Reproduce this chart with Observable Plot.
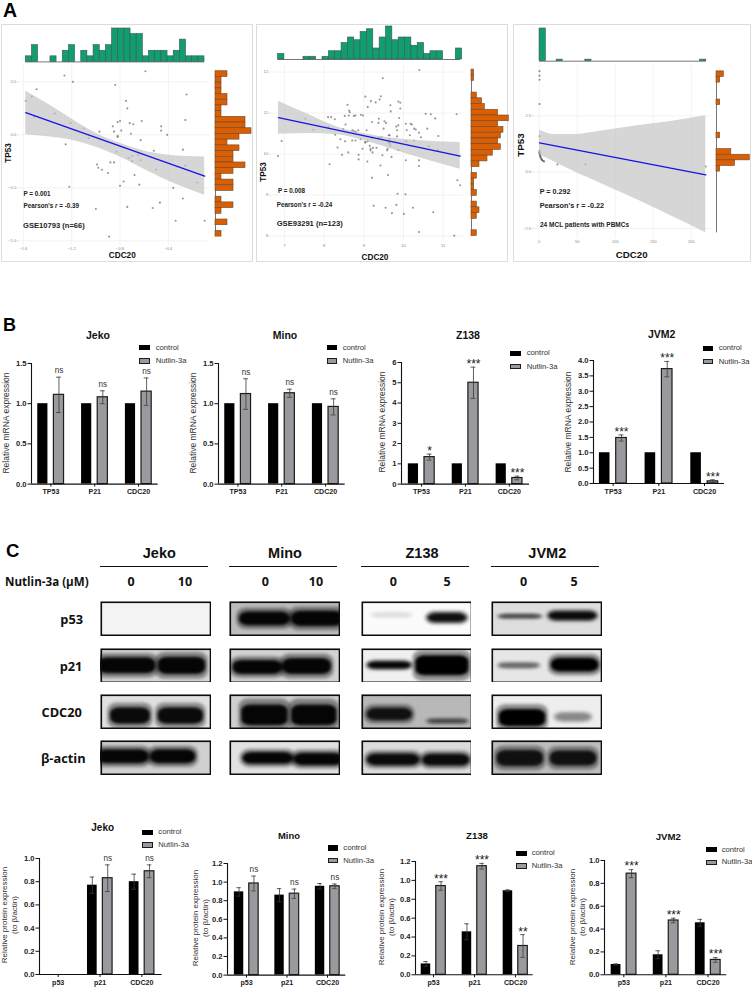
<!DOCTYPE html>
<html>
<head>
<meta charset="utf-8">
<script src="https://cdn.jsdelivr.net/npm/d3@7"></script>
<script src="https://cdn.jsdelivr.net/npm/@observablehq/plot@0.6"></script>
<style>
html,body{margin:0;padding:0;background:#fff;}
#page{position:relative;width:752px;height:989px;overflow:hidden;background:#fff;font-family:"Liberation Sans",Arial,sans-serif;color:#111;}
.lab{position:absolute;white-space:nowrap;line-height:1;}
.box{position:absolute;border:1px solid #dcdcdc;box-sizing:border-box;}
.sw{position:absolute;box-sizing:border-box;}
.blot g[aria-label="rect"]{filter:blur(1.7px);}
</style>
</head>
<body>
<div id="page"></div>
<script>
// ---------- Panel A: scatter data ----------
const cdc20A=[-1.26,-1.19,-.59,-.84,-1.49,-1.53,-1.58,-.25,-.75,-.74,-1.34,-1.51,-.26,-1.21,-.82,-.80,-.72,-.69,-.62,-.86,-.46,-.46,-1.10,-.97,-.85,-.79,-.71,-.82,-.41,-1.06,-.63,-1.25,-.77,-.28,-.52,-.83,-.64,-.70,-.73,-.63,-.70,-.88,-.85,-.99,-.26,-.98,-.95,-.50,-.90,-.68,-.16,-.77,-.80,-.64,-1.22,-.36,-.28,-.47,-.53,-.74,-1.00,-.34,-.10,-.89,-.65,-.82];
const tp53A=[.56,.50,.60,.47,.43,.36,.32,.38,.32,.25,.20,.17,.14,.11,.12,.13,.11,.10,.13,.08,.08,.04,.06,.03,.03,.04,.01,-.01,0,-.03,-.05,-.09,-.12,-.14,-.15,-.16,-.17,-.20,-.22,-.24,-.25,-.26,-.26,-.28,-.29,-.31,-.33,-.33,-.36,-.38,-.45,-.44,-.48,-.47,-.49,-.50,-.60,-.64,-.69,-.68,-.70,-.81,-.81,-.96,-.19,-.02];
const cdc20B=[6.84,6.93,7.53,7.73,8.10,8.18,8.27,8.11,8.14,8.28,8.34,8.45,8.52,8.54,8.48,8.53,8.61,8.59,8.63,8.65,8.62,8.75,8.79,8.71,8.75,8.80,8.86,8.93,8.98,9.10,9.04,9.18,9.30,9.40,9.43,9.48,10.40,9.07,8.92,8.97,9.04,9.10,8.87,8.87,9.09,9.15,9.17,9.23,9.22,9.21,9.37,9.38,9.52,9.56,9.65,9.67,9.68,9.87,9.92,9.92,9.89,9.87,9.82,10.06,10.18,10.21,10.27,10.16,10.31,10.39,10.44,10.56,10.69,10.80,11.34,10.60,10.88,10.64,10.87,9.47,9.60,9.62,9.65,9.70,9.87,10.07,10.06,10.39,10.39,9.42,9.61,9.21,11.36,11.43,9.85,10.05,9.25,9.55,9.82,10.24,9.71,10.01,10.75,10.39,11.28,9.04,9.59,9.17,9.65,9.45,9.84,8.79,8.71,8.41,9.63,9.38,9.50,9.20,9.32,10.08,9.84,10.26,9.67];
const tp53B=[9.95,10.32,10.86,10.59,10.90,10.90,10.85,10.66,9.75,10.47,10.16,9.98,10.93,10.72,10.61,10.31,10.04,11.20,11.06,11.02,10.94,10.93,10.94,10.33,10.56,10.54,10.58,10.96,10.94,11.15,11.40,11.29,11.26,11.33,11.41,11.85,12.05,10.58,10.36,10.13,10.28,10.31,9.98,9.87,9.82,10.20,10.09,10.15,10.04,10.78,10.76,10.86,10.80,10.76,10.46,11.19,11.04,11.28,11.25,11.11,10.88,10.70,10.67,10.74,10.74,10.72,10.62,10.46,10.60,10.52,10.41,10.98,10.97,10.87,10.97,10.62,10.44,10.19,10.09,9.97,10.13,10.29,10.26,9.93,10.10,10.31,9.85,9.85,9.71,9.72,9.49,9.42,9.36,9.24,9.03,9.02,8.74,8.69,8.76,8.69,8.56,8.54,8.58,8.10,8.01,10.29,10.09,10.13,10.36,10.41,10.58,10.33,10.58,10.36,10.46,10.40,10.62,10.40,10.15,10.58,10.43,10.33,10.21];
const cdc20C=[.4,.4,.4,.4,.4,.4,.4,.9,1.3,2.2,3.5,4.8,6.6,24,61,219,.4,.4,1.3,2.6,3.9,5.7,.9,1.8];
const tp53C=[4.48,4.28,4.10,3.02,1.60,.89,.83,.77,.70,.62,.56,.50,.47,.34,.34,.25,.95,.86,.74,.59,.53,.49,.80,.67];

const bandXA=[-1.58,-1.38,-1.20,-.99,-.80,-.61,-.41,-.10];
const bandHiA=[.41,.28,.15,.01,-.08,-.15,-.19,-.21];
const bandLoA=[0,-.02,-.05,-.12,-.21,-.32,-.43,-.57];
const fitXA=[-1.58,-.10], fitYA=[.21,-.39];
const bandXB=[6.85,7.57,8.33,9.00,9.67,10.34,11.43];
const bandHiB=[11.29,10.98,10.66,10.50,10.39,10.33,10.28];
const bandLoB=[10.48,10.50,10.47,10.33,10.13,9.93,9.63];
const fitXB=[6.85,11.43], fitYB=[10.89,9.95];
const bandXC=[.4,21,43,87,131,175,219];
const bandHiC=[1.86,1.67,1.67,1.85,2.07,2.26,2.50];
const bandLoC=[.77,.44,.07,-.59,-1.26,-1.97,-2.69];
const fitXC=[.4,219], fitYC=[1.30,-.12];

// marginal histogram counts
const topCountsA=[1,3,0,0,1,0,2,3,0,2,1,3,2,3,6,6,6,5,5,1,2,2,2,1,2,4,1,1,1];
const rightCountsA=[2,1,1,1,2,2,1,1,5,5,6,4,2,4,3,3,5,3,1,3,3,0,1,3,1,0,2,0,1];
const topCountsB=[2,0,0,0,1,1,0,1,3,3,6,8,7,10,11,4,8,12,7,8,8,5,6,2,3,3,0,0,4];
const rightCountsB=[1,1,0,0,2,4,5,10,14,10,12,11,10,11,8,6,3,0,2,1,1,2,0,2,3,2,0,0,2];
const topStartsC=[.4,22.8,60.5,211.4], topCountsC=[21,1,1,1];
const rightStartsC=[4.47,4.22,3.22,1.75,1.02,.77,.52,.27], rightCountsC=[2,1,1,1,4,9,5,1];

// ---------- Panels B and C: bar data ----------
const genesB=["TP53","P21","CDC20"], genesC=["p53","p21","CDC20"];
const mrnaControl=[1,1,1];
const jekoMrna=[1.11,1.08,1.15], jekoMrnaErr=[.22,.08,.17], jekoMrnaSig=["ns","ns","ns"];
const minoMrna=[1.12,1.13,.96], minoMrnaErr=[.19,.05,.10], minoMrnaSig=["ns","ns","ns"];
const z138Mrna=[1.33,5.0,.30], z138MrnaErr=[.15,.77,.09], z138MrnaSig=["*","***","***"];
const jvm2Mrna=[1.48,3.72,.07], jvm2MrnaErr=[.10,.25,.05], jvm2MrnaSig=["***","***","***"];

const jekoProtC=[0,.77,.80], jekoProtN=[0,.83,.89], jekoProtErrC=[0,.07,.065], jekoProtErrN=[0,.115,.055], jekoProtSig=["","ns","ns"];
const minoProtC=[.895,.86,.955], minoProtN=[.985,.875,.955], minoProtErrC=[.045,.07,.03], minoProtErrN=[.08,.05,.025], minoProtSig=["ns","ns","ns"];
const z138ProtC=[.115,.455,.89], z138ProtN=[.94,1.15,.305], z138ProtErrC=[.025,.085,.01], z138ProtErrN=[.045,.03,.12], z138ProtSig=["***","***","**"];
const jvm2ProtC=[.09,.175,.455], jvm2ProtN=[.885,.475,.13], jvm2ProtErrC=[.005,.035,.03], jvm2ProtErrN=[.035,.02,.02], jvm2ProtSig=["***","***","***"];

// ---------- Panel C: blot band readings: [from, to, centre, thickness, tone] within each strip ----------
const proteins=["p53","p21","CDC20","β-actin"];
const blotBackgrounds=[["#f3f3f3","#d6d6d6","#e0e0e0","#d0d0d0"],["#bcbcbc","#d2d2d2","#cfcfcf","#e2e2e2"],["#fbfbfb","#f0f0f0","#b8b8b8","#dcdcdc"],["#dedede","#e6e6e6","#eeeeee","#bdbdbd"]];
const jekoBands=[[],[[-.02,.50,.5,.46,"#050505"],[.52,.95,.5,.50,"#050505"]],[[.09,.45,.62,.48,"#0a0a0a"],[.52,.93,.62,.48,"#0a0a0a"]],[[-.03,.44,.47,.40,"#050505"],[.45,.86,.47,.40,"#050505"]]];
const minoBands=[[[.09,.55,.5,.40,"#050505"],[.56,1.03,.5,.44,"#050505"]],[[.03,.48,.55,.40,"#050505"],[.48,.92,.52,.46,"#050505"]],[[.11,.53,.6,.60,"#050505"],[.56,.97,.6,.60,"#050505"]],[[.12,.58,.52,.34,"#050505"],[.58,1.03,.55,.36,"#050505"]]];
const z138Bands=[[[.1,.45,.40,.12,"#dddddd"],[.6,.95,.48,.26,"#101010"]],[[.06,.45,.49,.20,"#050505"],[.49,.97,.50,.58,"#000000"]],[[.05,.46,.58,.36,"#101010"],[.6,.96,.78,.12,"#444444"]],[[.05,.53,.56,.34,"#0a0a0a"],[.55,.98,.57,.34,"#0a0a0a"]]];
const jvm2Bands=[[[.07,.45,.44,.11,"#444444"],[.52,.95,.42,.24,"#0a0a0a"]],[[.07,.43,.50,.14,"#666666"],[.54,.97,.48,.40,"#000000"]],[[.07,.49,.68,.50,"#000000"],[.58,.9,.66,.22,"#888888"]],[[.05,.47,.52,.46,"#101010"],[.53,.95,.52,.44,"#101010"]]];

// ---------- helpers ----------
const page=document.getElementById("page");
const FONT='"Liberation Sans",Arial,sans-serif';
const CAL='"Open Sans","Liberation Sans",sans-serif';
function label(html,x,y,o={}){
  const s=document.createElement("span");s.className="lab";s.innerHTML=html;
  const a=o.anchor==="start"?"0":"-50%";
  s.style.left=x+"px";s.style.top=y+"px";
  s.style.fontSize=(o.size||8)+"px";
  s.style.fontWeight=o.weight||"normal";
  s.style.color=o.color||"#111";
  if(o.font)s.style.fontFamily=o.font;
  s.style.transform=`translate(${a},-50%)`+(o.rotate?` rotate(${o.rotate}deg)`:"");
  page.appendChild(s);
}
function place(p){page.appendChild(p);}
function styleAt(left,top,extra={}){return {position:"absolute",left:left+"px",top:top+"px",background:"transparent",fontFamily:FONT,maxWidth:"none",...extra};}

function scatter(c){
  const [l,t,r,b]=c.inner;
  const box=document.createElement("div");box.className="box";
  box.style.cssText+=`left:${c.frame[0]}px;top:${c.frame[1]}px;width:${c.frame[2]-c.frame[0]}px;height:${c.frame[3]-c.frame[1]}px`;
  page.appendChild(box);
  const pts=c.xs.map((x,i)=>({x,y:c.ys[i]}));
  const band=c.bandX.map((x,i)=>({x,hi:c.bandHi[i],lo:c.bandLo[i]}));
  const fit=c.fitX.map((x,i)=>({x,y:c.fitY[i]}));
  const mL=18,mB=8;
  place(Plot.plot({
    width:r-l+mL+2,height:b-t+mB+1,marginLeft:mL,marginRight:2,marginTop:1,marginBottom:mB,
    x:{domain:c.xDomain,label:null},y:{domain:c.yDomain,label:null},
    style:styleAt(l-mL,t-1),
    marks:[
      Plot.gridX(c.xTicks,{stroke:"#eeeeee",strokeOpacity:1,strokeWidth:.7}),
      Plot.gridY(c.yTicks,{stroke:"#eeeeee",strokeOpacity:1,strokeWidth:.7}),
      Plot.axisX(c.xTicks,{tickSize:0,tickPadding:1.5,fontSize:4,fill:"#888",tickFormat:c.xFmt,label:null}),
      Plot.axisY(c.yTicks,{tickSize:1.5,tickPadding:1,fontSize:4,fill:"#888",stroke:"#aaa",strokeWidth:.5,tickFormat:c.yFmt,label:null}),
      Plot.dot(pts,{x:"x",y:"y",r:1.05,fill:"#555",fillOpacity:.62,stroke:"none"}),
      Plot.areaY(band,{x:"x",y1:"lo",y2:"hi",fill:"#c2c2c2",fillOpacity:.68,curve:"monotone-x"}),
      Plot.line(fit,{x:"x",y:"y",stroke:"#1414e6",strokeWidth:1.3})
    ]}));
  // top histogram
  const tw=c.topWidth, tops=c.topCounts.map((n,i)=>({x1:c.topStarts?c.topStarts[i]:c.topStart+i*tw,n}));
  const tMax=d3.max(c.topCounts);
  place(Plot.plot({
    width:r-l,height:c.topH+2,margin:0,marginTop:1,marginBottom:1,
    x:{domain:c.xDomain,axis:null},y:{domain:[0,tMax],axis:null},
    style:styleAt(l,c.topBase-c.topH-1),
    marks:[
      Plot.ruleY([0],{x1:c.topLine[0],x2:c.topLine[1],stroke:"#666",strokeWidth:.9}),
      Plot.rect(tops.filter(d=>d.n>0),{x1:"x1",x2:d=>d.x1+tw,y1:()=>0,y2:"n",fill:"#119c72",stroke:"#3b5a50",strokeWidth:.6})
    ]}));
  // right histogram
  const rh=c.rightHeight, rights=c.rightCounts.map((n,i)=>({y1:c.rightStarts?c.rightStarts[i]:c.rightStart-i*rh,n}));
  const rMax=d3.max(c.rightCounts);
  place(Plot.plot({
    width:c.rightW+2,height:b-t+2,marginLeft:1,marginRight:1,marginTop:1,marginBottom:1,
    x:{domain:[0,rMax],axis:null},y:{domain:c.yDomain,axis:null},
    style:styleAt(c.rightBase-1,t-1),
    marks:[
      Plot.ruleX([0],{y1:c.rightLine[0],y2:c.rightLine[1],stroke:"#666",strokeWidth:.9}),
      Plot.rect(rights.filter(d=>d.n>0),{x1:()=>0,x2:"n",y1:"y1",y2:d=>d.y1-rh,fill:"#d95f02",stroke:"#6b4a33",strokeWidth:.6})
    ]}));
}

function bars(c){
  const mL=30,mR=5,mT=20,mB=22;
  const rows=c.genes.map((g,i)=>({i,g,c:c.control[i],n:c.nutlin[i],ec:c.errC?c.errC[i]:0,en:c.errN[i],sig:c.sig[i]}));
  const xDomain=[(c.left-c.c0)/c.spacing,(c.right-c.c0)/c.spacing];
  const A=.068,B=.30,C=(A+B)/2;
  const errs=[...rows.filter(d=>d.ec>0).map(d=>({x:d.i-C,v:d.c,e:d.ec})),...rows.filter(d=>d.en>0).map(d=>({x:d.i+C,v:d.n,e:d.en}))];
  const capW=.055;
  const caps=errs.flatMap(d=>[{x:d.x,y:d.v+d.e},{x:d.x,y:d.v-d.e}]);
  const fmt=c.fmt||d3.format(".1f");
  const sigNs=rows.filter(d=>d.sig==="ns"), sigStar=rows.filter(d=>d.sig&&d.sig!=="ns");
  place(Plot.plot({
    width:c.right-c.left+mL+mR,height:c.y0-c.yTop+mT+mB,
    marginLeft:mL,marginRight:mR,marginTop:mT,marginBottom:mB,
    x:{domain:xDomain,label:null},y:{domain:[0,c.yMax],label:null},
    style:styleAt(c.left-mL,c.yTop-mT),
    marks:[
      Plot.rect(rows.filter(d=>d.c>0),{x1:d=>d.i-B,x2:d=>d.i-A,y1:()=>0,y2:"c",fill:"#000"}),
      Plot.rect(rows.filter(d=>d.n>0),{x1:d=>d.i+A,x2:d=>d.i+B,y1:()=>0,y2:"n",fill:"#9a9a9e",stroke:"#1c1c1c",strokeWidth:1.2}),
      Plot.ruleX(errs,{x:"x",y1:d=>d.v-d.e,y2:d=>d.v+d.e,stroke:"#3a3a3a",strokeWidth:.8}),
      Plot.ruleY(caps,{y:"y",x1:d=>d.x-capW,x2:d=>d.x+capW,stroke:"#3a3a3a",strokeWidth:.8}),
      Plot.text(sigNs,{x:d=>d.i+C,y:d=>d.n+d.en,text:"sig",dy:-6.5,fontSize:8.2,fill:"#333"}),
      Plot.text(sigStar,{x:d=>d.i+C,y:d=>d.n+d.en,text:"sig",dy:-3,fontSize:12,fill:"#222"}),
      Plot.ruleX([xDomain[0]],{y1:0,y2:c.yMax,stroke:"#111",strokeWidth:1.1}),
      Plot.ruleY([0],{stroke:"#111",strokeWidth:1.1}),
      Plot.axisY(c.yTicks,{tickSize:3.5,tickPadding:1.5,fontSize:7.6,fontWeight:"bold",fill:"#222",stroke:"#111",strokeWidth:1,tickFormat:fmt,label:null}),
      Plot.axisX(d3.range(c.genes.length),{tickSize:3,tickPadding:2,fontSize:7.1,fontWeight:"bold",fill:"#222",stroke:"#111",strokeWidth:1,tickFormat:i=>c.genes[i],label:null})
    ]}));
  label(c.title,c.tx,c.ty,{size:c.tsize||10.5,weight:"bold"});
  if(c.ylab2){
    label(c.ylab,c.yl1,c.yc,{size:8,rotate:-90,color:"#333"});
    label(c.ylab2,c.yl2,c.yc,{size:8,rotate:-90,color:"#333"});
  }else label(c.ylab,c.yl1,c.yc,{size:8.5,rotate:-90,color:"#333"});
  const [sx,ty1,ty2,tx]=c.legend;
  const sw=(y,nut)=>{const d=document.createElement("div");d.className="sw";
    d.style.cssText+=`left:${sx}px;top:${y-2.7}px;width:10.6px;height:5.4px;background:${nut?"#9a9a9e":"#000"};border:${nut?"1.1px solid #1c1c1c":"none"}`;page.appendChild(d);};
  sw(ty1,false);sw(ty2,true);
  label("control",tx,ty1,{size:7.7,anchor:"start",color:"#333"});
  label("Nutlin-3a",tx,ty2,{size:7.7,anchor:"start",color:"#333"});
}

function blot(bands,bg,left,top,w,h){
  const rows=bands.map(([a,b,yc,th,g])=>({a,b,yc,th,g}));
  const p=Plot.plot({
    width:w,height:h,margin:0,
    x:{domain:[0,1],axis:null},y:{domain:[1,0],axis:null},color:{type:"identity"},
    style:styleAt(left,top,{overflow:"hidden"}),
    marks:[
      Plot.frame({fill:bg,stroke:"none"}),
      Plot.rect(rows,{x1:d=>d.a-.025,x2:d=>d.b+.025,y1:d=>d.yc-d.th*.78,y2:d=>d.yc+d.th*.78,fill:"g",fillOpacity:.38,rx:10,ry:8}),
      Plot.rect(rows,{x1:"a",x2:"b",y1:d=>d.yc-d.th/2,y2:d=>d.yc+d.th/2,fill:"g",rx:9,ry:6}),
      Plot.frame({stroke:"#0c0c0c",strokeWidth:1.6,inset:.8})
    ]});
  const w2=document.createElement("div");w2.className="blot";w2.appendChild(p);page.appendChild(w2);
}

// ---------- Panel letters ----------
label("A",3,10.5,{size:19.5,weight:"bold",anchor:"start",color:"#000"});
label("B",3,324.5,{size:18,weight:"bold",anchor:"start",color:"#000"});
label("C",6,550.5,{size:18.5,weight:"bold",anchor:"start",color:"#000"});

// ---------- Panel A ----------
scatter({frame:[1,24,253,262],inner:[18.3,65,209.3,245],xDomain:[-1.64,-.06],yDomain:[-1.044,.654],
  xTicks:[-1.6,-1.2,-.8,-.4],yTicks:[-1,-.5,0,.5],xFmt:d3.format(".1f"),yFmt:d3.format(".1f"),
  xs:cdc20A,ys:tp53A,bandX:bandXA,bandHi:bandHiA,bandLo:bandLoA,fitX:fitXA,fitY:fitYA,
  topCounts:topCountsA,topStart:-1.58,topWidth:.051,topBase:61.7,topH:33.4,topLine:[-1.58,-.10],
  rightCounts:rightCountsA,rightStart:.60,rightHeight:.0538,rightBase:215,rightW:36,rightLine:[.60,-.96]});
label("P = 0.001",23.5,194,{size:6.3,weight:"bold",anchor:"start",color:"#222"});
label("Pearson's <i>r</i> = -0.39",23.5,206,{size:6.3,weight:"bold",anchor:"start",color:"#222"});
label("GSE10793 (n=66)",23,226,{size:7.6,weight:"bold",anchor:"start",color:"#222"});
label("TP53",8.7,153,{size:8.2,weight:"bold",rotate:-90});
label("CDC20",122.3,256.3,{size:8.2,weight:"bold"});

scatter({frame:[256,24,508,262],inner:[270,65,463.3,241.7],xDomain:[6.65,11.52],yDomain:[7.85,12.16],
  xTicks:[7,8,9,10,11],yTicks:[8,9,10,11,12],xFmt:d3.format("d"),yFmt:d3.format("d"),
  xs:cdc20B,ys:tp53B,bandX:bandXB,bandHi:bandHiB,bandLo:bandLoB,fitX:fitXB,fitY:fitYB,
  topCounts:topCountsB,topStart:6.84,topWidth:.16,topBase:59.3,topH:33,topLine:[6.84,11.44],
  rightCounts:rightCountsB,rightStart:12.06,rightHeight:.14,rightBase:470.7,rightW:37.3,rightLine:[12.06,8.0]});
label("P = 0.008",278,191.3,{size:6.3,weight:"bold",anchor:"start",color:"#222"});
label("Pearson's r = -0.24",276.7,205,{size:6.3,weight:"bold",anchor:"start",color:"#222"});
label("GSE93291 (n=123)",276.7,224,{size:7.6,weight:"bold",anchor:"start",color:"#222"});
label("TP53",264,171.7,{size:8.2,weight:"bold",rotate:-90});
label("CDC20",375,257.7,{size:8.2,weight:"bold"});

scatter({frame:[513,24,751,262],inner:[533.3,65,711.7,238.3],xDomain:[-7.5,227],yDomain:[-2.96,4.73],
  xTicks:[0,50,100,150,200],yTicks:[-2.5,0,2.5],xFmt:d3.format("d"),yFmt:d3.format(".1f"),
  xs:cdc20C,ys:tp53C,bandX:bandXC,bandHi:bandHiC,bandLo:bandLoC,fitX:fitXC,fitY:fitYC,
  topCounts:topCountsC,topStarts:topStartsC,topWidth:8.3,topBase:61,topH:32.7,topLine:[.4,219.7],
  rightCounts:rightCountsC,rightStarts:rightStartsC,rightHeight:.25,rightBase:715.7,rightW:33.3,rightLine:[4.47,-2.7]});
label("P = 0.292",539.7,192,{size:7.2,weight:"bold",anchor:"start",color:"#222"});
label("Pearson's r = -0.22",539.7,206.3,{size:7.3,weight:"bold",anchor:"start",color:"#222"});
label("24 MCL patients with PBMCs",540,225,{size:6.5,weight:"bold",anchor:"start",color:"#222"});
label("TP53",520.7,145,{size:9.8,weight:"bold",rotate:-90});
label("CDC20",631.7,255,{size:9.7,weight:"bold"});

// ---------- Panel B ----------
const mrnaLab="Relative mRNA expression", halfStep=[0,.5,1,1.5];
bars({genes:genesB,control:mrnaControl,nutlin:jekoMrna,errN:jekoMrnaErr,sig:jekoMrnaSig,yMax:1.5,yTicks:halfStep,
  left:31.3,right:158,y0:483.3,yTop:362.7,c0:50.7,spacing:43.83,title:"Jeko",tx:98,ty:335,ylab:mrnaLab,yl1:6,yc:422.7,legend:[139,347.7,361,155.7]});
bars({genes:genesB,control:mrnaControl,nutlin:minoMrna,errN:minoMrnaErr,sig:minoMrnaSig,yMax:1.5,yTicks:halfStep,
  left:218.3,right:345,y0:483.3,yTop:362.7,c0:237.7,spacing:43.83,title:"Mino",tx:285,ty:335,ylab:mrnaLab,yl1:193.3,yc:422.7,legend:[326.7,347.7,361,342.7]});
bars({genes:genesB,control:mrnaControl,nutlin:z138Mrna,errN:z138MrnaErr,sig:z138MrnaSig,yMax:6,yTicks:[0,1,2,3,4,5,6],fmt:d3.format("d"),
  left:401,right:529,y0:483.3,yTop:361.7,c0:421,spacing:43.9,title:"Z138",tx:468,ty:335,ylab:mrnaLab,yl1:382,yc:421.7,legend:[510,353.3,366.7,526.7]});
bars({genes:genesB,control:mrnaControl,nutlin:jvm2Mrna,errN:jvm2MrnaErr,sig:jvm2MrnaSig,yMax:4,yTicks:[0,.5,1,1.5,2,2.5,3,3.5,4],
  left:592.7,right:723.7,y0:483,yTop:360,c0:612.3,spacing:45.7,title:"JVM2",tx:661.7,ty:334,ylab:mrnaLab,yl1:568,yc:421.7,legend:[702.7,348.3,361.7,718.7]});

// ---------- Panel C: blots ----------
const cellLines=["Jeko","Mino","Z138","JVM2"];
const cellBands=[jekoBands,minoBands,z138Bands,jvm2Bands];
const blotLeft=[100,229.3,360.7,491.3];
const blotTop=[601,647.7,694.3,740];
const ruleCentre=[159.3,285,422,547.3];
const doses=[["0","10"],["0","10"],["0","5"],["0","5"]];
const doseX=[[131,185],[265.3,316],[393.3,447],[523.7,574]];
cellLines.forEach((name,i)=>{
  label(name,ruleCentre[i],552.7,{size:14.5,weight:"bold"});
  const d=document.createElement("div");d.className="sw";
  d.style.cssText+=`left:${blotLeft[i]}px;top:565.7px;width:108px;height:1.4px;background:#111`;page.appendChild(d);
  doses[i].forEach((t,j)=>label(t,doseX[i][j],582,{size:12.5,weight:"bold",font:CAL}));
  proteins.forEach((_,k)=>blot(cellBands[i][k],blotBackgrounds[i][k],blotLeft[i],blotTop[k],110.8,34.6));
});
label("Nutlin-3a (μM)",5,582,{size:11.6,weight:"bold",anchor:"start",font:CAL});
const proteinX=[71.7,71,61.7,63.3], proteinY=[619,665.7,712.3,758];
proteins.forEach((p,k)=>label(p,proteinX[k],proteinY[k],{size:12.8,weight:"bold",font:CAL}));

// ---------- Panel C: bars ----------
const protLab="Relative protein expression", protLab2="(to β/actin)";
const step10=[0,.2,.4,.6,.8,1], step12=[0,.2,.4,.6,.8,1,1.2];
bars({genes:genesC,control:jekoProtC,nutlin:jekoProtN,errC:jekoProtErrC,errN:jekoProtErrN,sig:jekoProtSig,yMax:1,yTicks:step10,
  left:39,right:161.7,y0:973.7,yTop:857.7,c0:57.7,spacing:41.83,title:"Jeko",tx:102.7,ty:828.3,tsize:10,ylab:protLab,ylab2:protLab2,yl1:5,yl2:15,yc:915,legend:[142.3,832.3,845,158.3]});
bars({genes:genesC,control:minoProtC,nutlin:minoProtN,errC:minoProtErrC,errN:minoProtErrN,sig:minoProtSig,yMax:1.2,yTicks:step12,
  left:226.7,right:345,y0:974.3,yTop:862.7,c0:245.7,spacing:40.5,title:"Mino",tx:289,ty:836,tsize:9.4,ylab:protLab,ylab2:protLab2,yl1:195.7,yl2:205.7,yc:918,legend:[327.7,848,860.7,343.3]});
bars({genes:genesC,control:z138ProtC,nutlin:z138ProtN,errC:z138ProtErrC,errN:z138ProtErrN,sig:z138ProtSig,yMax:1.2,yTicks:step12,
  left:415,right:532.7,y0:974.3,yTop:861,c0:433,spacing:41,title:"Z138",tx:477,ty:836,tsize:9.6,ylab:protLab,ylab2:protLab2,yl1:381.7,yl2:391.7,yc:917,legend:[516.3,853.3,866,531.7]});
bars({genes:genesC,control:jvm2ProtC,nutlin:jvm2ProtN,errC:jvm2ProtErrC,errN:jvm2ProtErrN,sig:jvm2ProtSig,yMax:1,yTicks:step10,
  left:603.7,right:726,y0:974.3,yTop:860,c0:623,spacing:42.1,title:"JVM2",tx:668.3,ty:836.7,tsize:9.6,ylab:protLab,ylab2:protLab2,yl1:572.7,yl2:582.7,yc:917,legend:[706,849.7,862.3,721.7]});
</script>
</body>
</html>
